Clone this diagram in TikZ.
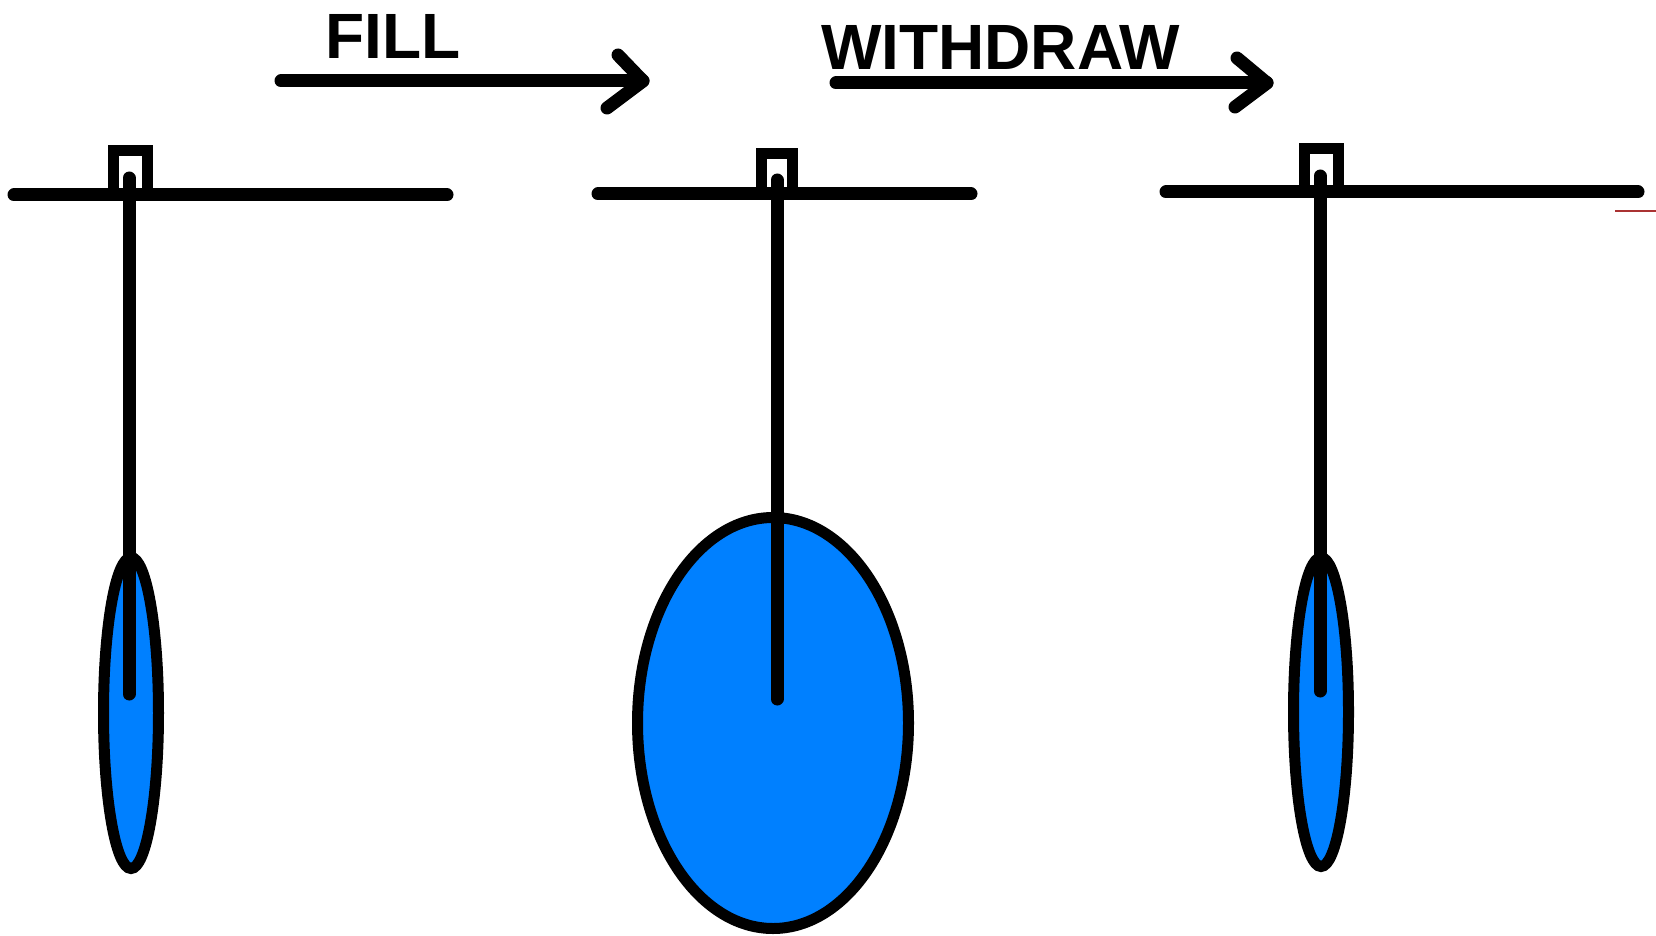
\documentclass[tikz,border=0pt]{standalone}
\usepackage{fontspec}
\setmainfont{Liberation Sans}
\definecolor{balloonblue}{RGB}{0,128,255}
\definecolor{artred}{RGB}{170,50,50}
\begin{document}
\begin{tikzpicture}[x=1pt,y=-1pt,
  thickline/.style={line width=13pt, line cap=round, line join=round},
  barline/.style={line width=13pt, line cap=round},
  capbox/.style={line width=11pt, line join=miter},
  stem/.style={line width=13pt, line cap=round},
  balloon/.style={line width=11pt, fill=balloonblue, draw=black},
  label/.style={font=\fontsize{64}{64}\selectfont\bfseries, inner sep=0pt, anchor=base west}]
\useasboundingbox (0,0) rectangle (1656,936);
% labels
\node[label] (fill) at (325,59) {FILL};
\node[label] (withdraw) at (821,70) {WITHDRAW};
% arrows
\coordinate (fa) at (281,81); \coordinate (fb) at (643,81);
\coordinate (fu) at (618,55); \coordinate (fl) at (607,108);
\draw[thickline] (fa) -- (fb);
\draw[thickline] (fu) -- (fb) -- (fl);
\coordinate (wa) at (836,83); \coordinate (wb) at (1267,83);
\coordinate (wu) at (1237,58); \coordinate (wl) at (1235,107);
\draw[thickline] (wa) -- (wb);
\draw[thickline] (wu) -- (wb) -- (wl);
% bars
\coordinate (b1a) at (14,195); \coordinate (b1b) at (447,195);
\coordinate (b2a) at (598,194); \coordinate (b2b) at (971,194);
\coordinate (b3a) at (1166,192); \coordinate (b3b) at (1638,192);
\draw[barline] (b1a) -- (b1b);
\draw[barline] (b2a) -- (b2b);
\draw[barline] (b3a) -- (b3b);
% caps
\draw[capbox] (113.5,195) -- (113.5,150.5) -- (147.5,150.5) -- (147.5,195);
\draw[capbox] (761.5,194) -- (761.5,153.5) -- (792.5,153.5) -- (792.5,194);
\draw[capbox] (1304.5,192) -- (1304.5,148.5) -- (1338.5,148.5) -- (1338.5,192);
% balloons
\draw[balloon] (131,713) ellipse [x radius=27.5, y radius=155.5];
\draw[balloon] (773,723) ellipse [x radius=135.5, y radius=205.5];
\draw[balloon] (1321,712) ellipse [x radius=27.5, y radius=154.5];
% stems
\coordinate (s1t) at (129,178); \coordinate (s1b) at (129,694);
\coordinate (s2t) at (777,180); \coordinate (s2b) at (777,699);
\coordinate (s3t) at (1320,176); \coordinate (s3b) at (1320,691);
\draw[stem] (s1t) -- (s1b);
\draw[stem] (s2t) -- (s2b);
\draw[stem] (s3t) -- (s3b);
% small artifact
\draw[artred, line width=1.5pt] (1615,211) -- (1656,211);
\end{tikzpicture}
\end{document}
